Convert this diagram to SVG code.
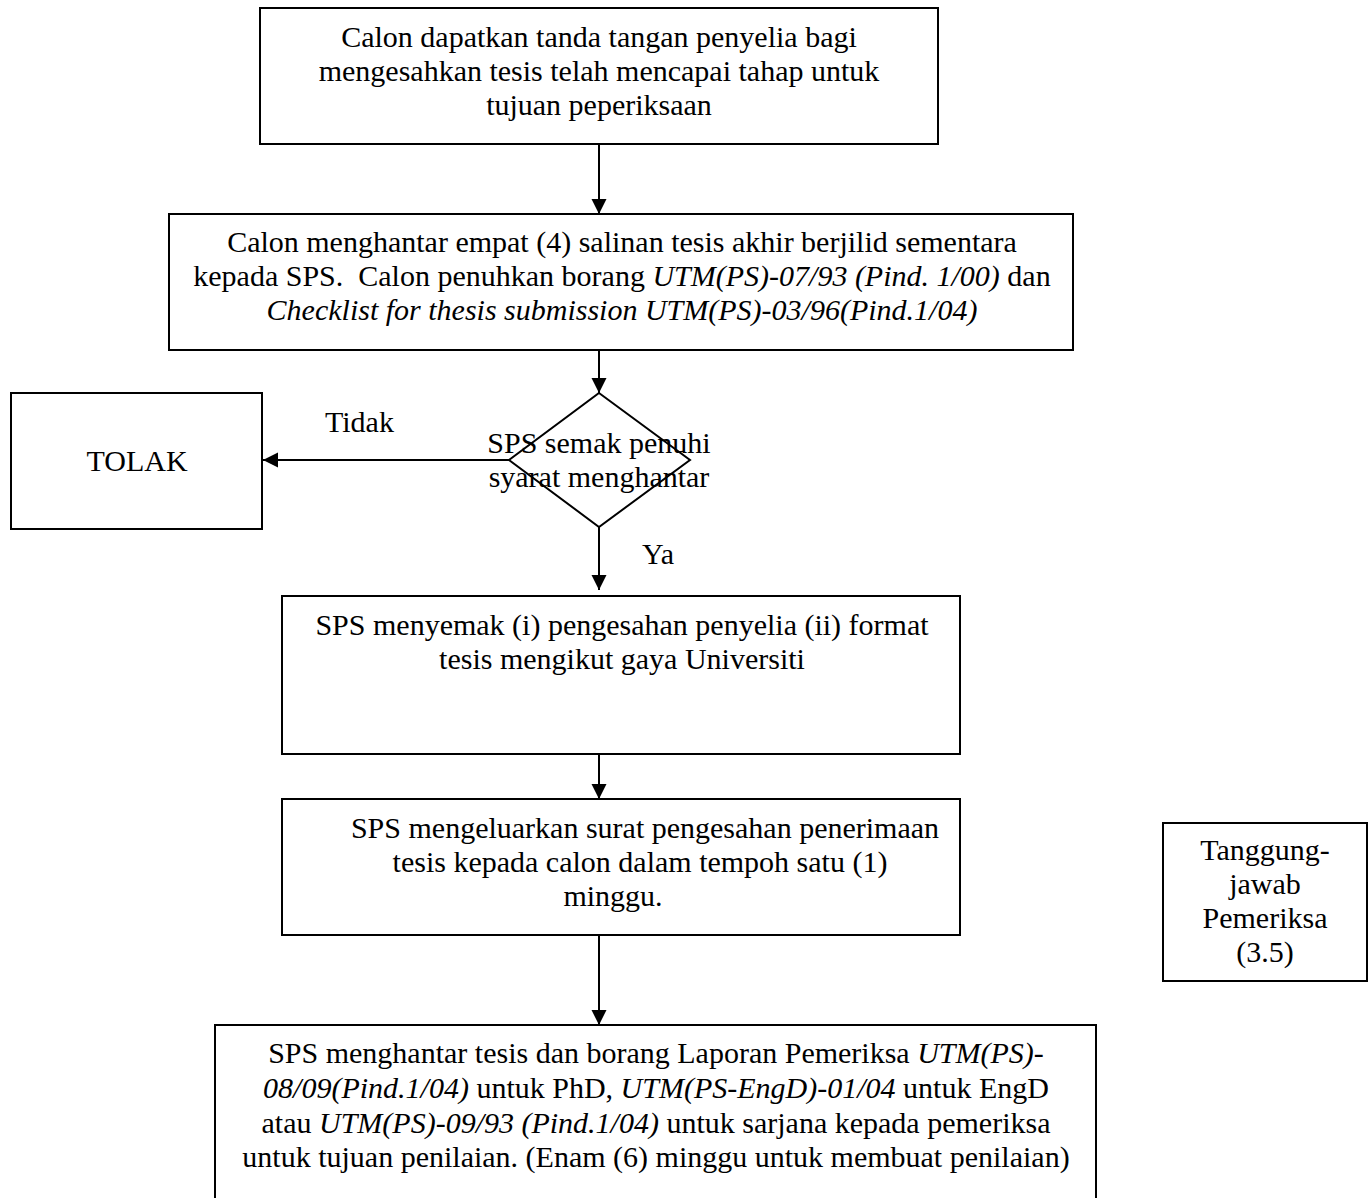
<svg xmlns="http://www.w3.org/2000/svg" width="1372" height="1198" viewBox="0 0 1372 1198">
<style>
  .box { fill: #ffffff; stroke: #000000; stroke-width: 2; }
  .t { font-family: "Liberation Serif", "Times New Roman", serif; font-size: 30px; fill: #000000; }
  .c { text-anchor: middle; }
  .i { font-style: italic; }
  .conn { stroke: #000000; stroke-width: 2; fill: none; marker-end: url(#arrow); }
</style>
<defs>
  <marker id="arrow" markerUnits="userSpaceOnUse" markerWidth="16" markerHeight="16" refX="15" refY="7.5" orient="auto">
    <path d="M0,0 L15,7.5 L0,15 Z" fill="#000000"/>
  </marker>
</defs>
<rect width="1372" height="1198" fill="#ffffff"/>

<g id="connectors">
  <line class="conn" x1="599" y1="145" x2="599" y2="214"/>
  <line class="conn" x1="599" y1="351" x2="599" y2="393"/>
  <line class="conn" x1="509" y1="460" x2="263" y2="460"/>
  <line class="conn" x1="599" y1="527" x2="599" y2="590"/>
  <line class="conn" x1="599" y1="755" x2="599" y2="799"/>
  <line class="conn" x1="599" y1="936" x2="599" y2="1025"/>
  <text class="t" x="325" y="432">Tidak</text>
  <text class="t" x="642" y="564">Ya</text>
</g>

<g id="node1">
  <rect class="box" x="260" y="8" width="678" height="136"/>
  <text class="t c" x="599" y="47">Calon dapatkan tanda tangan penyelia bagi</text>
  <text class="t c" x="599" y="81">mengesahkan tesis telah mencapai tahap untuk</text>
  <text class="t c" x="599" y="115">tujuan peperiksaan</text>
</g>

<g id="node2">
  <rect class="box" x="169" y="214" width="904" height="136"/>
  <text class="t c" x="622" y="252">Calon menghantar empat (4) salinan tesis akhir berjilid sementara</text>
  <text class="t c" x="622" y="286" xml:space="preserve">kepada SPS.  Calon penuhkan borang <tspan class="i">UTM(PS)-07/93 (Pind. 1/00)</tspan> dan</text>
  <text class="t c i" x="622" y="320">Checklist for thesis submission UTM(PS)-03/96(Pind.1/04)</text>
</g>

<g id="node3">
  <polygon class="box" points="599,393 690,460 599,527 509,460"/>
  <text class="t c" x="599" y="453">SPS semak penuhi</text>
  <text class="t c" x="599" y="487">syarat menghantar</text>
</g>

<g id="node-tolak">
  <rect class="box" x="11" y="393" width="251" height="136"/>
  <text class="t c" x="137" y="471">TOLAK</text>
</g>

<g id="node4">
  <rect class="box" x="282" y="596" width="678" height="158"/>
  <text class="t c" x="622" y="635">SPS menyemak (i) pengesahan penyelia (ii) format</text>
  <text class="t c" x="622" y="669">tesis mengikut gaya Universiti</text>
</g>

<g id="node5">
  <rect class="box" x="282" y="799" width="678" height="136"/>
  <text class="t c" x="645" y="838">SPS mengeluarkan surat pengesahan penerimaan</text>
  <text class="t c" x="640" y="872">tesis kepada calon dalam tempoh satu (1)</text>
  <text class="t c" x="613" y="906">minggu.</text>
</g>

<g id="node-side">
  <rect class="box" x="1163" y="823" width="204" height="158"/>
  <text class="t c" x="1265" y="860">Tanggung-</text>
  <text class="t c" x="1265" y="894">jawab</text>
  <text class="t c" x="1265" y="928">Pemeriksa</text>
  <text class="t c" x="1265" y="962">(3.5)</text>
</g>

<g id="node6">
  <rect class="box" x="215" y="1025" width="881" height="190"/>
  <text class="t c" x="656" y="1063">SPS menghantar tesis dan borang Laporan Pemeriksa <tspan class="i">UTM(PS)-</tspan></text>
  <text class="t c" x="656" y="1098"><tspan class="i">08/09(Pind.1/04)</tspan> untuk PhD, <tspan class="i">UTM(PS-EngD)-01/04</tspan> untuk EngD</text>
  <text class="t c" x="656" y="1133">atau <tspan class="i">UTM(PS)-09/93 (Pind.1/04)</tspan> untuk sarjana kepada pemeriksa</text>
  <text class="t c" x="656" y="1167">untuk tujuan penilaian. (Enam (6) minggu untuk membuat penilaian)</text>
</g>
</svg>
